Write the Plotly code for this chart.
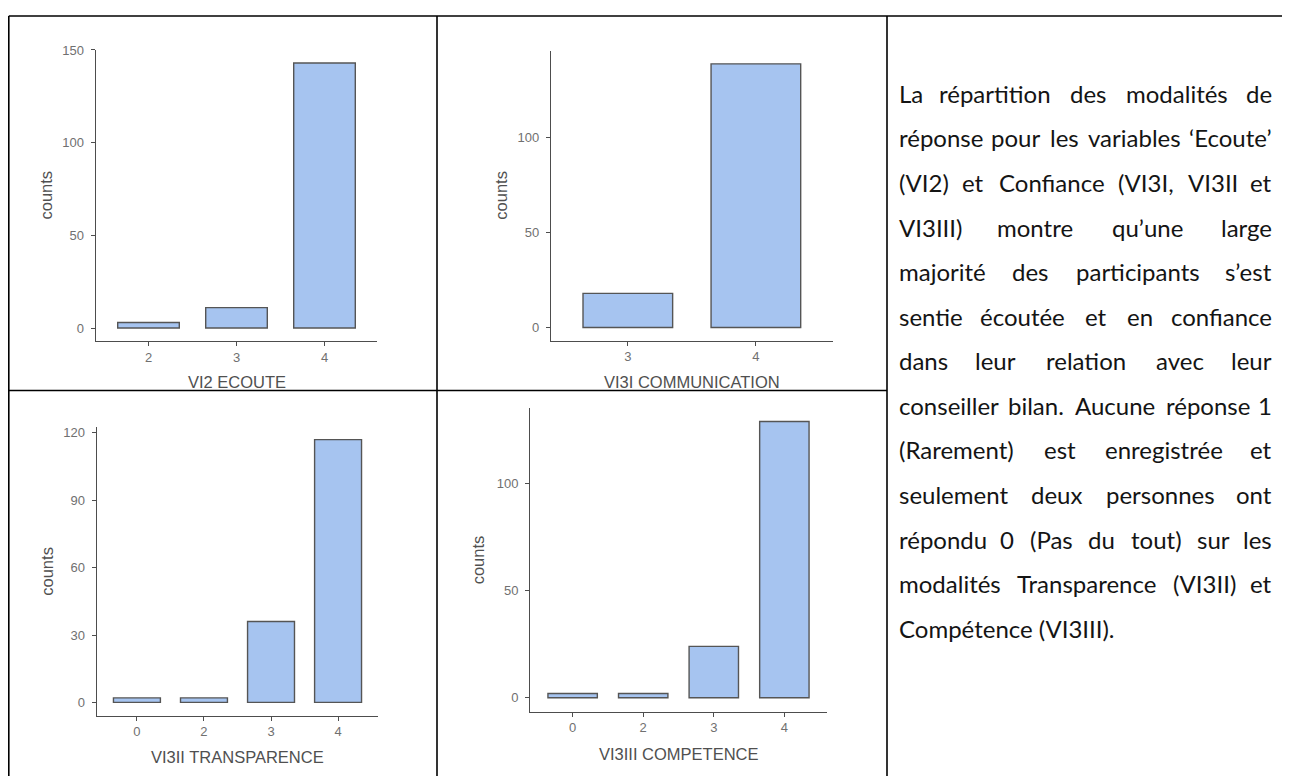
import plotly.graph_objects as go

# page body has an 8px margin: the figure is placed 8px from the window's top-left corner
PAGE_OFF = 8.0
W, H = 1290 - 8, 776 - 8

# ---------------- data ----------------
cats_ecoute = ["2", "3", "4"]
counts_ecoute = [3, 11, 143]
cats_comm = ["3", "4"]
counts_comm = [18, 139]
cats_transp = ["0", "2", "3", "4"]
counts_transp = [2, 2, 36, 117]
cats_comp = ["0", "2", "3", "4"]
counts_comp = [2, 2, 24, 129]

x_titles = ["VI2 ECOUTE", "VI3I COMMUNICATION", "VI3II TRANSPARENCE", "VI3III COMPETENCE"]
y_tickvals = [[0, 50, 100, 150], [0, 50, 100], [0, 30, 60, 90, 120], [0, 50, 100]]

text_lines = [
    "La répartition des modalités de",
    "réponse pour les variables ‘Ecoute’",
    "(VI2) et Confiance (VI3I, VI3II et",
    "VI3III) montre qu’une large",
    "majorité des participants s’est",
    "sentie écoutée et en confiance",
    "dans leur relation avec leur",
    "conseiller bilan. Aucune réponse 1",
    "(Rarement) est enregistrée et",
    "seulement deux personnes ont",
    "répondu 0 (Pas du tout) sur les",
    "modalités Transparence (VI3II) et",
    "Compétence (VI3III).",
]

# ---------------- layout geometry (window pixels) ----------------
# (left, right, top, bottom) of each plotting panel
panels = [
    (95.7, 377.3, 43.0, 337.3),
    (551.0, 832.7, 44.0, 336.7),
    (96.7, 378.3, 423.3, 715.0),
    (530.3, 826.7, 404.3, 711.0),
]
ytitle_x = [46, 501, 46.7, 477.7]
xtitle_y = [378, 378, 756.7, 753.3]

series = [
    (cats_ecoute, counts_ecoute),
    (cats_comm, counts_comm),
    (cats_transp, counts_transp),
    (cats_comp, counts_comp),
]

BAR_FILL = "#A6C4F0"
BAR_LINE = "#555555"
AXIS_COL = "#4d4d4d"
TICK_COL = "#707070"
TITLE_COL = "#505050"
CHART_FONT = "Liberation Sans, Arial, sans-serif"


def px_x(x):
    return (x - PAGE_OFF) / W


def px_y(y):
    return 1 - (y - PAGE_OFF) / H


fig = go.Figure()
annotations = []
layout_axes = {}

for i, ((cats, vals), (l, r, t, b)) in enumerate(zip(series, panels)):
    n = i + 1
    xa = "x" if n == 1 else f"x{n}"
    ya = "y" if n == 1 else f"y{n}"
    fig.add_trace(go.Bar(
        x=cats, y=vals, xaxis=xa, yaxis=ya, width=0.7,
        marker=dict(color=BAR_FILL, line=dict(color=BAR_LINE, width=1.4)),
        showlegend=False, hoverinfo="x+y",
    ))
    vmax = max(vals)
    xkey = "xaxis" if n == 1 else f"xaxis{n}"
    ykey = "yaxis" if n == 1 else f"yaxis{n}"
    layout_axes[xkey] = dict(
        domain=[px_x(l), px_x(r)], anchor=ya, type="category",
        range=[-0.6, len(cats) - 0.4],
        showline=True, linecolor=AXIS_COL, linewidth=1.3,
        ticks="outside", ticklen=4, tickwidth=1.2, tickcolor=AXIS_COL,
        tickfont=dict(family=CHART_FONT, size=13, color=TICK_COL),
        showgrid=False, zeroline=False, ticklabelstandoff=0,
    )
    layout_axes[ykey] = dict(
        domain=[px_y(b), px_y(t)], anchor=xa,
        range=[-0.05 * vmax, 1.05 * vmax],
        showline=True, linecolor=AXIS_COL, linewidth=1.3,
        ticks="outside", ticklen=4, tickwidth=1.2, tickcolor=AXIS_COL,
        tickmode="array", tickvals=y_tickvals[i],
        tickfont=dict(family=CHART_FONT, size=13, color=TICK_COL),
        showgrid=False, zeroline=False, ticklabelstandoff=4,
    )
    annotations.append(dict(
        text="counts", x=px_x(ytitle_x[i]), y=px_y((t + b) / 2),
        xref="paper", yref="paper", textangle=-90, showarrow=False,
        xanchor="center", yanchor="middle",
        font=dict(family=CHART_FONT, size=16.5, color=TITLE_COL),
    ))
    annotations.append(dict(
        text=x_titles[i], x=px_x((l + r) / 2), y=px_y(xtitle_y[i]),
        xref="paper", yref="paper", showarrow=False,
        xanchor="center", yanchor="middle",
        font=dict(family=CHART_FONT, size=16.5, color=TITLE_COL),
    ))

# ---------------- justified paragraph ----------------
CW = {
    'a': .479, 'b': .525, 'c': .423, 'd': .525, 'e': .498, 'f': .305, 'g': .471, 'h': .525,
    'i': .229, 'j': .239, 'k': .455, 'l': .229, 'm': .799, 'n': .525, 'o': .527, 'p': .525,
    'q': .525, 'r': .349, 's': .391, 't': .335, 'u': .525, 'v': .452, 'w': .715, 'x': .433,
    'y': .453, 'z': .395, 'é': .498,
    'A': .579, 'B': .544, 'C': .533, 'D': .615, 'E': .488, 'F': .459, 'G': .631, 'H': .623,
    'I': .252, 'J': .319, 'K': .520, 'L': .420, 'M': .855, 'N': .646, 'O': .662, 'P': .517,
    'Q': .673, 'R': .543, 'S': .459, 'T': .487, 'U': .642, 'V': .567, 'W': .890,
    '(': .303, ')': .303, ',': .250, '.': .252, '’': .250, '‘': .250,
}
TXT_FONT = "Lato, Carlito, 'Open Sans', sans-serif"
TXT_SIZE = 24
LATO_FACTOR = 1.06
TXT_L, TXT_R = 897.0, 1274.0
LINE_Y0, LINE_DY = 87.0, 45.0


def word_w(wd):
    return sum(CW.get(c, .507) for c in wd) * TXT_SIZE * LATO_FACTOR


for k, line in enumerate(text_lines):
    y = px_y(LINE_Y0 + k * LINE_DY)
    font = dict(family=TXT_FONT, size=TXT_SIZE, color="#141414")
    if k == len(text_lines) - 1:
        annotations.append(dict(text=line, x=px_x(TXT_L), y=y, xref="paper", yref="paper",
                                showarrow=False, xanchor="left", yanchor="middle", font=font))
        continue
    words = line.split(" ")
    widths = [word_w(wd) for wd in words]
    gap = (TXT_R - TXT_L - sum(widths)) / (len(words) - 1)
    cx = TXT_L
    for j, (wd, wdw) in enumerate(zip(words, widths)):
        if j == 0:
            ax, anchor = cx, "left"
        elif j == len(words) - 1:
            ax, anchor = TXT_R, "right"
        else:
            ax, anchor = cx + wdw / 2, "center"
        annotations.append(dict(text=wd, x=px_x(ax), y=y, xref="paper", yref="paper",
                                showarrow=False, xanchor=anchor, yanchor="middle", font=font))
        cx += wdw + gap

# ---------------- table borders ----------------
shapes = []
border = dict(color="black", width=1.6)
for (x0, y0, x1, y1) in [
    (8.8, 9.0, 1290, 9.0),      # top rule
    (8.8, 9.0, 8.8, 776),       # left rule
    (437, 9.0, 437, 776),       # between chart columns
    (887, 9.0, 887, 776),       # before text column
    (8.8, 387, 887, 387),       # between chart rows
]:
    shapes.append(dict(type="line", xref="paper", yref="paper",
                       x0=px_x(x0), y0=px_y(y0), x1=px_x(x1), y1=px_y(y1), line=border))

fig.update_layout(
    width=W, height=H,
    margin=dict(l=0, r=0, t=0, b=0),
    paper_bgcolor="white", plot_bgcolor="white",
    annotations=annotations, shapes=shapes,
    bargap=0.3,
    **layout_axes,
)

fig.write_html("out.html")
